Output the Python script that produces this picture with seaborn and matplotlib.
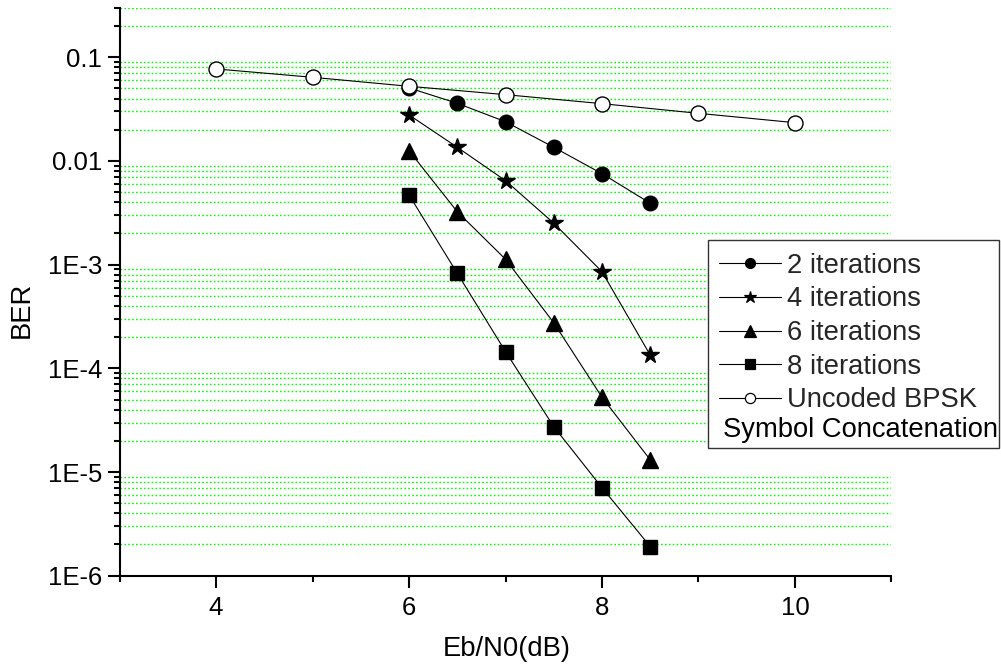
import numpy as np
import pandas as pd
import matplotlib
matplotlib.use("Agg")
import matplotlib.pyplot as plt
import matplotlib.ticker as mticker
from matplotlib.lines import Line2D
from matplotlib.patches import Rectangle
import seaborn as sns

# Eb/N0 grid (dB)
ebn0_coded = [6.0, 6.5, 7.0, 7.5, 8.0, 8.5]
ebn0_uncoded = [4, 5, 6, 7, 8, 9, 10]

# Bit error rates
ber_2iter = [0.0506, 0.0360, 0.0239, 0.01355, 0.00754, 0.00391]
ber_4iter = [0.0278, 0.01355, 0.00646, 0.00251, 0.000855, 0.000134]
ber_6iter = [0.01257, 0.00324, 0.001127, 0.000275, 5.26e-5, 1.31e-5]
ber_8iter = [0.0047, 0.000826, 0.000145, 2.74e-5, 7.06e-6, 1.91e-6]
ber_uncoded = [0.0772, 0.0641, 0.0525, 0.0436, 0.0357, 0.0288, 0.0234]

series_names = ["2 iterations", "4 iterations", "6 iterations",
                "8 iterations", "Uncoded BPSK"]
legend_note = "Symbol Concatenation"

ytick_values = [1e-6, 1e-5, 1e-4, 1e-3, 1e-2, 1e-1]
ytick_labels = ["1E-6", "1E-5", "1E-4", "1E-3", "0.01", "0.1"]
xtick_values = [4, 6, 8, 10]

frames = []
for name, xs, ys in zip(series_names,
                        [ebn0_coded] * 4 + [ebn0_uncoded],
                        [ber_2iter, ber_4iter, ber_6iter, ber_8iter, ber_uncoded]):
    frames.append(pd.DataFrame({"Eb/N0": xs, "BER": ys, "series": name}))
df = pd.concat(frames, ignore_index=True)

sns.set_theme(style="white")
plt.rcParams["font.family"] = ["Liberation Sans", "DejaVu Sans"]

FS_TICK = 18.5
FS_TEXT = 19.7

fig = plt.figure(figsize=(10.01, 6.67), dpi=100)
ax = fig.add_axes([0.1194, 0.1369, 0.7712, 0.8514])

styles = {
    "2 iterations": dict(marker="o", markersize=10.5, mfc="black"),
    "4 iterations": dict(marker="*", markersize=13.0, mfc="black"),
    "6 iterations": dict(marker="^", markersize=12.0, mfc="black"),
    "8 iterations": dict(marker="s", markersize=9.6, mfc="black"),
    "Uncoded BPSK": dict(marker="o", markersize=10.8, mfc="white"),
}
zorders = {"Uncoded BPSK": 5}

for name in series_names:
    st = styles[name]
    sub = df[df["series"] == name]
    sns.lineplot(data=sub, x="Eb/N0", y="BER", ax=ax, color="black",
                 linewidth=0.8, marker=st["marker"], markersize=st["markersize"],
                 markerfacecolor=st["mfc"], markeredgecolor="black",
                 markeredgewidth=1.0, zorder=zorders.get(name, 3),
                 legend=False, errorbar=None, estimator=None)

ax.set_yscale("log")
ax.set_ylim(1e-6, 0.3)
ax.set_xlim(3, 11)

ax.yaxis.set_major_locator(mticker.FixedLocator(ytick_values))
ax.yaxis.set_major_formatter(mticker.FixedFormatter(ytick_labels))
ax.yaxis.set_minor_locator(mticker.LogLocator(base=10, subs=np.arange(2, 10), numticks=20))
ax.yaxis.set_minor_formatter(mticker.NullFormatter())
ax.xaxis.set_major_locator(mticker.FixedLocator(xtick_values))
ax.xaxis.set_minor_locator(mticker.MultipleLocator(1))

for side in ["top", "right"]:
    ax.spines[side].set_visible(False)
for side in ["left", "bottom"]:
    ax.spines[side].set_linewidth(1.5)
    ax.spines[side].set_color("black")

ax.tick_params(axis="both", which="major", direction="out", length=8.5, width=1.5,
               color="black", labelsize=FS_TICK, labelcolor="black", pad=4,
               left=True, bottom=True)
ax.tick_params(axis="both", which="minor", direction="out", length=4.3, width=1.5,
               color="black", left=True, bottom=True)
ax.tick_params(axis="x", which="major", pad=6)

ax.grid(False)
ax.yaxis.grid(True, which="minor", color="#00ff00", linestyle=(0, (1.2, 1.6)),
              linewidth=1.0)
ax.set_axisbelow(True)

ax.set_xlabel("Eb/N0(dB)", fontsize=FS_TEXT, color="black")
ax.set_ylabel("BER", fontsize=FS_TEXT, color="black")
ax.xaxis.set_label_coords(0.502, -0.106)
ax.yaxis.set_label_coords(-0.110, 0.468)

# Legend with a frame that also holds the scheme note
handles = []
for name in series_names:
    st = styles[name]
    handles.append(Line2D([0], [0], color="black", linewidth=0.8,
                          marker=st["marker"], markersize=st["markersize"] * 0.68,
                          markerfacecolor=st["mfc"], markeredgecolor="black",
                          markeredgewidth=0.9))
fig.patches.append(Rectangle((0.7073, 0.3283), 0.2907, 0.3119,
                             transform=fig.transFigure, facecolor="white",
                             edgecolor="#333333", linewidth=1.0, zorder=1))
leg = fig.legend(handles, series_names, loc="upper left",
                 bbox_to_anchor=(0.7183, 0.621), frameon=False, fontsize=FS_TEXT,
                 handlelength=2.26, handletextpad=0.22, labelspacing=0.28,
                 borderpad=0, borderaxespad=0)
fig.text(0.7223, 0.3553, legend_note, fontsize=FS_TEXT, color="black",
         ha="left", va="center")

fig.savefig("out.png", dpi=100)
